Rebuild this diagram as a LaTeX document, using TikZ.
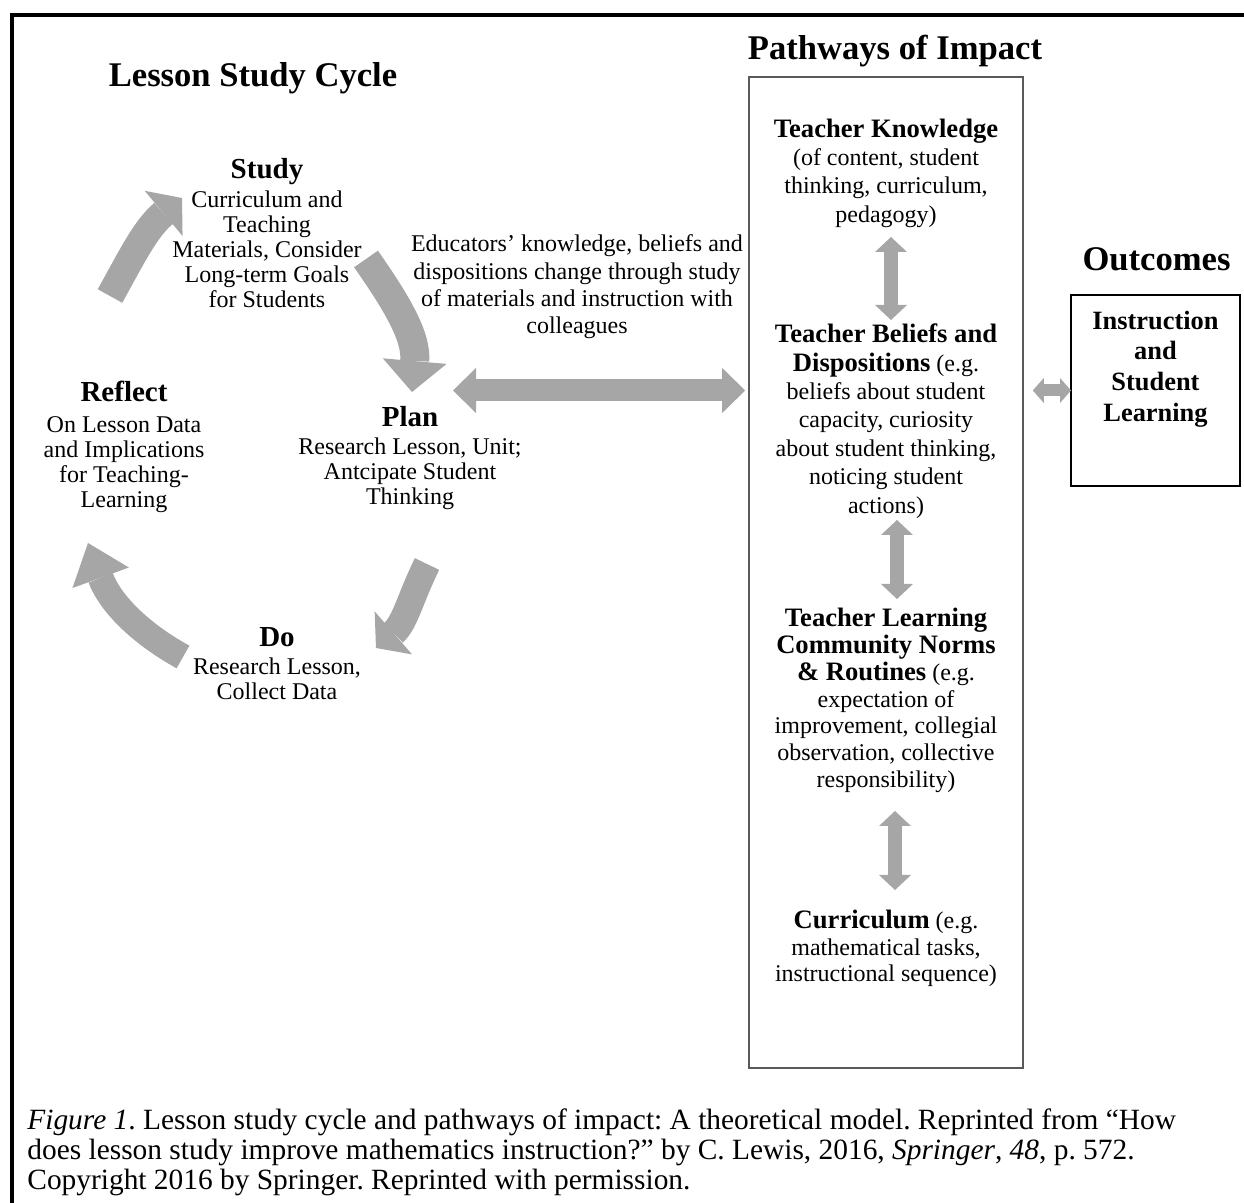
\documentclass[tikz,border=0pt]{standalone}
\usepackage{fontspec}
\setmainfont{Liberation Serif}
\usetikzlibrary{arrows.meta}
\definecolor{arrowgray}{HTML}{A6A6A6}
\definecolor{framegray}{HTML}{595959}
\newcommand{\boxhead}[1]{{\fontsize{13.3}{14.2}\selectfont\bfseries #1}}
\frenchspacing

\begin{document}
\begin{tikzpicture}[x=0.5pt, y=0.5pt,
  headline/.style={font=\fontsize{17.3}{20}\selectfont\bfseries, anchor=base, inner sep=0pt},
  phase/.style={font=\fontsize{14.5}{16}\selectfont\bfseries, anchor=base, inner sep=0pt},
  phasetxt/.style={font=\fontsize{12}{12.5}\selectfont, align=center, inner sep=0pt},
  boxtxt/.style={font=\fontsize{12}{#1}\selectfont, align=center, inner sep=0pt},
  cyc/.style n args={3}{draw=arrowgray, line width=#1, -{Triangle[length=#2, width=#3, line width=0pt]}},
  dbl/.style n args={3}{draw=arrowgray, line width=#1, {Triangle[length=#2, width=#3, line width=0pt]}-{Triangle[length=#2, width=#3, line width=0pt]}}]
\useasboundingbox (0,0) rectangle (1244,-1203);
\draw[line width=2pt] (1244,-15) -- (11.5,-15) -- (11.5,-1203);

% titles
\node[headline] (lsc) at (253,-86.5) {Lesson Study Cycle};
\node[headline] (poi) at (895,-59.5) {Pathways of Impact};
\node[headline] (outc) at (1156.5,-271) {Outcomes};

% lesson study cycle
\node[phase] (study) at (267,-179) {Study};
\node[phase] (reflect) at (124,-402) {Reflect};
\node[phase] (plan) at (410,-427) {Plan};
\node[phase] (do) at (277,-647) {Do};
\node[phasetxt] (studyT) at (267,-249) {Curriculum and\\Teaching\\Materials, Consider\\Long-term Goals\\for Students};
\node[phasetxt] (reflectT) at (124,-464.5) {On Lesson Data\\and Implications\\for Teaching-\\Learning};
\node[phasetxt] (planT) at (410,-474) {Research Lesson, Unit;\\Antcipate Student\\Thinking};
\node[phasetxt] (doT) at (277,-678.5) {Research Lesson,\\Collect Data};
\node[boxtxt=13.7pt] (change) at (577,-287) {Educators’ knowledge, beliefs and\\dispositions change through study\\of materials and instruction with\\colleagues};

% pathways
\node[draw=framegray, line width=0.8pt, minimum width=137pt, minimum height=495.5pt, inner sep=0pt] (pathbox) at (886,-572.5) {};
\node[boxtxt=14.2pt] (know) at (886,-173) {\boxhead{Teacher Knowledge}\\(of content, student\\thinking, curriculum,\\pedagogy)};
\node[boxtxt=14.2pt] (belief) at (886,-421) {\boxhead{Teacher Beliefs and}\\\boxhead{Dispositions} (e.g.\\beliefs about student\\capacity, curiosity\\about student thinking,\\noticing student\\actions)};
\node[boxtxt=13.4pt] (norms) at (886,-700.5) {\boxhead{Teacher Learning}\\\boxhead{Community Norms}\\\boxhead{\& Routines} (e.g.\\expectation of\\improvement, collegial\\observation, collective\\responsibility)};
\node[boxtxt=13.3pt] (curric) at (886,-948.5) {\boxhead{Curriculum} (e.g.\\mathematical tasks,\\instructional sequence)};

% outcomes
\node[draw, line width=1pt, minimum width=84.5pt, minimum height=95.5pt, inner sep=0pt] (outbox) at (1155.5,-390.5) {};
\node[font=\fontsize{13.2}{15.3}\selectfont\bfseries, align=center, inner sep=0pt] (outT) at (1155.5,-369) {Instruction\\and\\Student\\Learning};

\node[font=\fontsize{14.7}{15}\selectfont, align=left, anchor=north west, inner sep=0pt] (caption) at (27,-1108) {\textit{Figure 1}. Lesson study cycle and pathways of impact: A theoretical model. Reprinted from “How\\does lesson study improve mathematics instruction?” by C. Lewis, 2016, \textit{Springer}, \textit{48}, p. 572.\\Copyright 2016 by Springer. Reprinted with permission.};

% cycle arrows
\draw[cyc={14pt}{12pt}{29.5pt}] ([shift={(-14,106)}]reflect.base) to[out=61, in=220] ([shift={(-85,-19)}]study.base);
\draw[cyc={14.5pt}{15.5pt}{32pt}] ([shift={(99,-80)}]study.base) to[out=-55, in=85] ([shift={(2,35)}]plan.base);
\draw[cyc={13.5pt}{11.5pt}{28.5pt}] ([shift={(17,-137)}]plan.base) to[out=-116, in=41] ([shift={(99,-1)}]do.base);
\draw[cyc={13pt}{18.5pt}{30pt}] ([shift={(-94,-10)}]do.base) to[out=151, in=-70] ([shift={(-36,-141)}]reflect.base);

% double arrows
\draw[dbl={11pt}{11.5pt}{22.5pt}] ([shift={(43,36.5)}]plan.base) -- ([xshift=-1.5pt]pathbox.west |- outbox.west);
\draw[dbl={7pt}{7.5pt}{16pt}] ([shift={(5,-64)}]know.center) -- ([shift={(5,101)}]belief.center);
\draw[dbl={7pt}{7.5pt}{16pt}] ([shift={(11,-99)}]belief.center) -- ([shift={(11,101.5)}]norms.center);
\draw[dbl={7pt}{7.5pt}{16pt}] ([shift={(9,-110.5)}]norms.center) -- ([shift={(9,58.5)}]curric.center);
\draw[dbl={6pt}{5.5pt}{12.5pt}] ([xshift=4.5pt]pathbox.east |- outbox.west) -- ([xshift=0.5pt]outbox.west);
\end{tikzpicture}
\end{document}
